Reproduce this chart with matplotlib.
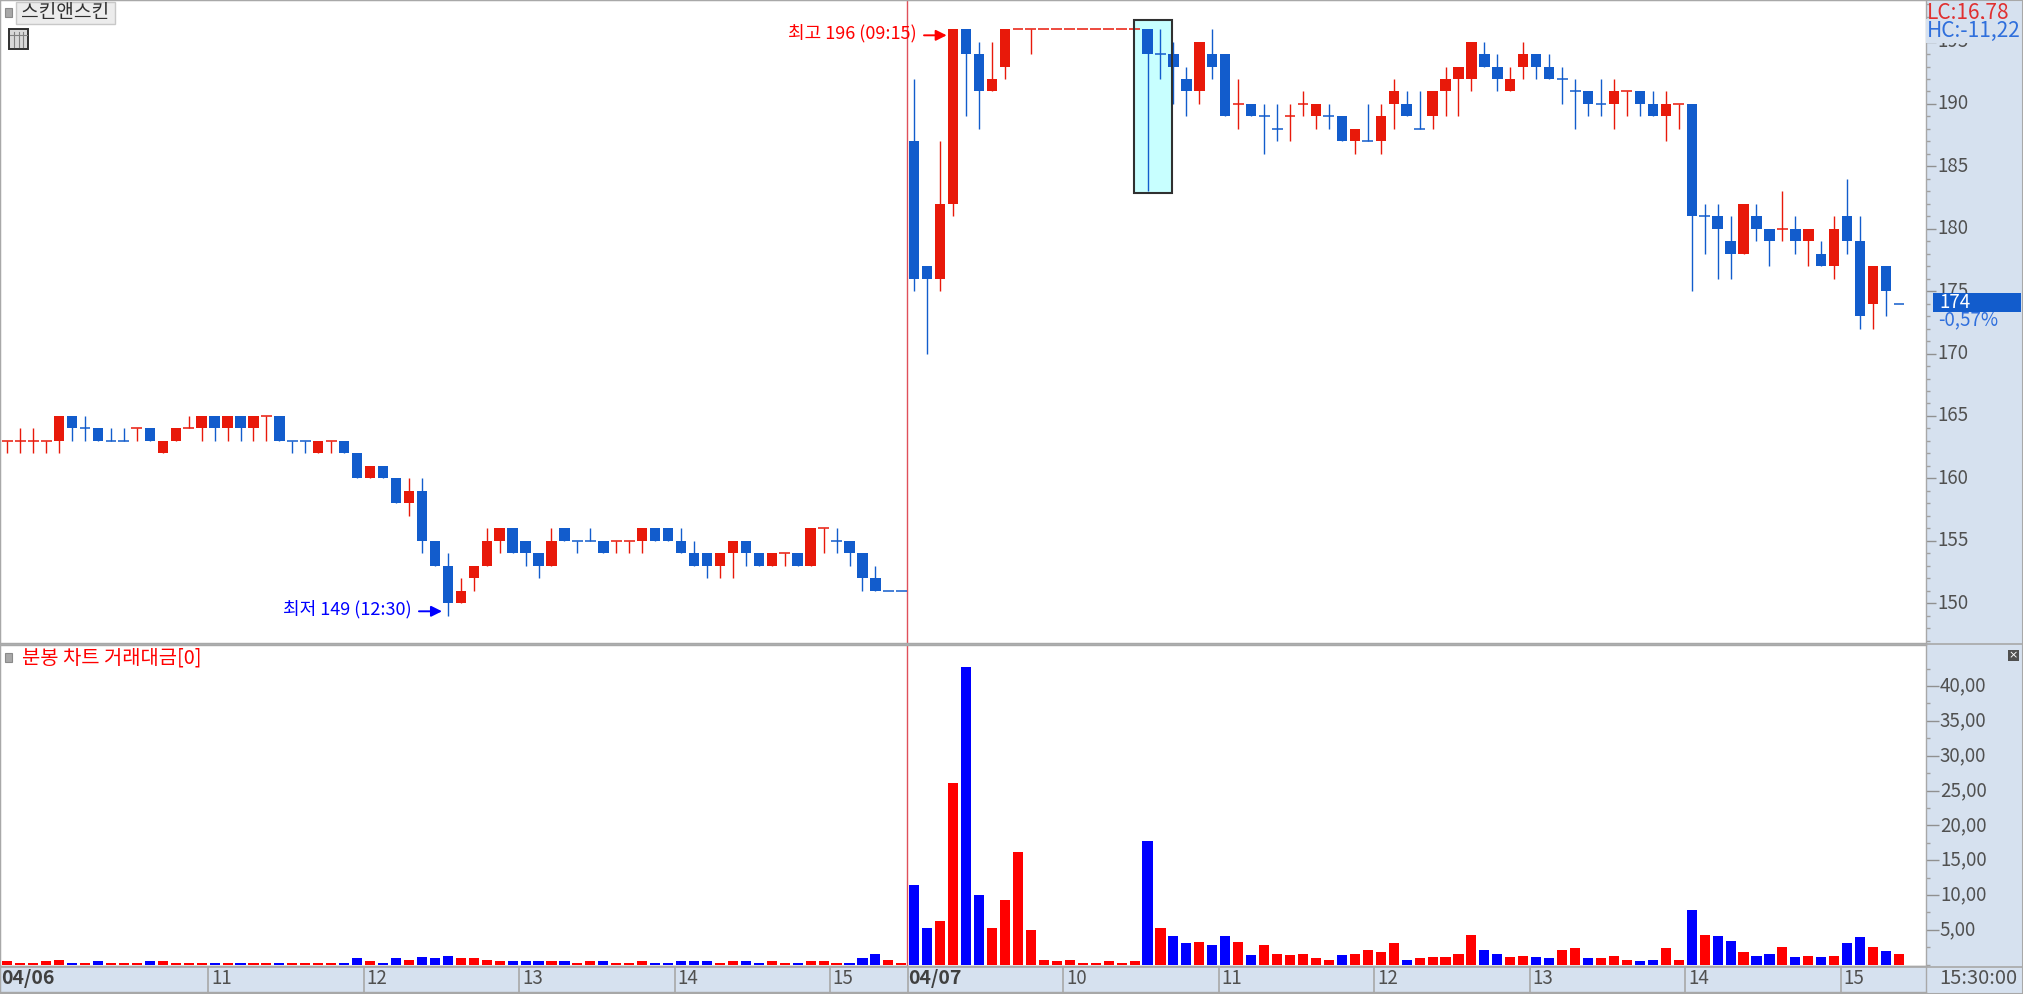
import matplotlib
matplotlib.use('Agg')
import matplotlib.pyplot as plt
from matplotlib.patches import Rectangle
from matplotlib.transforms import ScaledTranslation

plt.rcParams['font.family'] = ['Liberation Sans Narrow', 'Noto Sans CJK KR', 'DejaVu Sans']

opens = [163,163,163,163,163,165,164,164,163,163,
         164,164,162,163,164,164,165,164,165,164,
         165,165,163,163,162,163,163,162,160,161,
         160,158,159,155,153,150,152,153,155,156,
         155,154,153,156,155,155,155,155,155,155,
         156,156,155,154,154,153,154,155,154,153,
         154,154,153,156,155,155,154,152,151,151,
         187,177,176,182,196,194,191,193,196,196,
         196,196,196,196,196,196,196,196,196,194,
         194,192,191,194,194,190,190,189,188,189,
         190,189,189,189,187,187,187,190,190,188,
         189,191,192,192,194,193,191,193,194,193,
         192,191,191,190,190,191,191,190,189,190,
         190,181,181,179,178,181,180,180,180,179,
         178,177,181,179,174,177,174]
highs = [163,164,164,163,165,165,165,164,164,164,
         164,164,163,164,165,165,165,165,165,165,
         165,165,163,163,163,163,163,162,161,161,
         160,160,160,155,154,152,153,156,156,156,
         155,154,156,156,155,156,155,155,155,156,
         156,156,156,155,154,154,155,155,154,154,
         154,154,156,156,156,155,154,153,151,151,
         192,177,187,196,196,195,195,196,196,196,
         196,196,196,196,196,196,196,196,196,196,
         195,193,195,196,194,192,190,190,190,190,
         191,190,190,189,188,190,190,192,191,191,
         191,193,193,195,195,194,193,195,194,194,
         193,192,191,192,192,191,191,191,191,190,
         190,182,182,181,182,182,180,183,181,180,
         179,181,184,181,177,177,174]
lows = [162,162,162,162,162,163,163,163,163,163,
        163,163,162,163,164,163,163,163,163,163,
        163,163,162,162,162,162,162,160,160,160,
        158,157,154,153,149,150,151,153,154,154,
        153,152,153,155,154,155,154,154,154,154,
        155,155,154,153,152,152,152,153,153,153,
        153,153,153,154,154,153,151,151,151,151,
        175,170,175,181,189,188,191,192,196,194,
        196,196,196,196,196,196,196,196,183,192,
        190,189,190,192,189,188,189,186,187,187,
        189,188,188,187,186,187,186,188,189,188,
        188,189,189,191,193,191,191,192,192,192,
        190,188,189,189,188,189,189,189,187,188,
        175,178,176,176,178,179,177,179,178,177,
        177,176,178,172,172,173,174]
closes = [163,163,163,163,165,164,164,163,163,163,
          164,163,163,164,164,165,164,165,164,165,
          165,163,163,163,163,163,162,160,161,160,
          158,159,155,153,150,151,153,155,156,154,
          154,153,155,155,155,155,154,155,155,156,
          155,155,154,153,153,154,155,154,153,154,
          154,153,156,156,155,154,152,151,151,151,
          176,176,182,196,194,191,192,196,196,196,
          196,196,196,196,196,196,196,196,194,194,
          193,191,195,193,189,190,189,189,188,189,
          190,190,189,187,188,187,189,191,189,188,
          191,192,193,195,193,192,192,194,193,192,
          192,191,190,190,191,191,190,189,190,190,
          181,181,180,178,182,180,179,180,179,180,
          177,180,179,173,177,175,174]
candle_side = ("rrrrrbbbbb" "rbrrrrbrbr" "rbbbrrbbrb" "brbbbrrrrb" "bbrbbbbrrr"
               "bbbbbrrbbr" "rbrrbbbbbb" "bbrrbbrrrr" "rrrrrrrrbb" "bbrbbrbbbr"
               "rrbbrbrrbb" "rrrrbbrrbb" "bbbbrrbbrr" "bbbbrbbrbr" "brbbrbb")

amounts = [.5,.2,.2,.45,.7,.2,.2,.5,.2,.2,
           .2,.5,.5,.2,.2,.2,.2,.2,.2,.2,
           .2,.2,.2,.2,.2,.2,.2,.9,.5,.2,
           .9,.7,1.1,.9,1.3,.9,.9,.7,.45,.45,
           .45,.45,.45,.45,.2,.45,.45,.2,.2,.45,
           .2,.2,.45,.45,.45,.2,.45,.45,.2,.45,
           .2,.2,.45,.45,.2,.2,.9,1.5,.65,.25,
           11.45,5.2,6.2,26.1,42.75,10,5.2,9.3,16.2,5,
           .65,.45,.65,.25,.25,.45,.25,.45,17.75,5.2,
           4.1,3.1,3.25,2.8,4.1,3.25,1.35,2.8,1.55,1.35,
           1.55,.9,.65,1.35,1.55,2.15,1.75,3.1,.65,.9,
           1.1,1.1,1.55,4.3,2.15,1.55,1.1,1.3,1.1,.9,
           2.15,2.4,.9,.9,1.3,.65,.45,.65,2.4,.65,
           7.8,4.3,4.1,3.4,1.75,1.3,1.55,2.6,1.1,1.3,
           1.1,1.3,3.1,3.95,2.6,1.95,1.55]
amount_side = ("rrrrrbrbrr" "rbrrrrbrbr" "rbrrrrbbrb" "brbbbrrrrb" "bbrbrrbrrr"
               "bbbbbrrbbr" "rbrrrbbbrr" "bbrrbbrrrr" "rrrrrrrrbr" "bbrbbrbrrr"
               "rrrbrrrrbr" "rrrrbbrrbb" "rrbrrrbbrr" "brbbrbbrbr" "brbbrbr")

price_ticks = [150, 155, 160, 165, 170, 175, 180, 185, 190, 195]
amount_ticks = [5, 10, 15, 20, 25, 30, 35, 40]
amount_labels = ['5,00', '10,00', '15,00', '20,00', '25,00', '30,00', '35,00', '40,00']
time_bars = [16, 28, 40, 52, 64, 82, 94, 106, 118, 130, 142]
time_labels = ['11', '12', '13', '14', '15', '10', '11', '12', '13', '14', '15']
day_bars = [0, 70]
day_labels = ['04/06', '04/07']

W, H = 2023, 994
UP, DOWN = '#e8190a', '#125ccc'
VUP, VDOWN = '#ff0000', '#0000ff'
BAND = '#d6e1ef'
EDGE = '#a8a8a8'
KOREAN = ['Noto Sans CJK KR', 'DejaVu Sans']

PITCH, X0 = 12.957, 7.3
XLIM = (-X0 / PITCH, (1926 - X0) / PITCH)


def box(top, bottom, left=0, right=1926):
    return [left / W, 1 - bottom / H, (right - left) / W, (bottom - top) / H]


fig = plt.figure(figsize=(W / 100, H / 100), dpi=100, facecolor=BAND)
ax = fig.add_axes(box(0, 643), facecolor='white')
vol = fig.add_axes(box(645, 966), facecolor='white')
band = fig.add_axes(box(966, 992), facecolor=BAND)

# candles
xs = list(range(len(opens)))
cols = [UP if s == 'r' else DOWN for s in candle_side]
ax.vlines(xs, lows, highs, colors=cols, linewidth=1.0, zorder=3)
for x, o, c, col in zip(xs, opens, closes, cols):
    if o == c:
        ax.hlines(o, x - 0.42, x + 0.42, colors=col, linewidth=1.1, zorder=3)
    else:
        ax.bar(x, abs(c - o), bottom=min(o, c), width=0.8, color=col, linewidth=0, zorder=3)

# selected range
sel_x, sel_w = 86.96, 2.91
sel_low, sel_high = 182.9, 196.75
ax.add_patch(Rectangle((sel_x, sel_low), sel_w, sel_high - sel_low, facecolor='#c8ffff',
                       edgecolor='none', zorder=1))
ax.add_patch(Rectangle((sel_x, sel_low), sel_w, sel_high - sel_low, facecolor='none',
                       edgecolor='#303030', linewidth=1.5, zorder=4))

ax.set_xlim(XLIM)
ax.set_ylim(146.81, 198.33)
ax.set_xticks([])
ax.yaxis.tick_right()
ax.set_yticks(price_ticks)
ax.set_yticks(range(147, 199), minor=True)
ax.tick_params(axis='y', which='major', length=7, width=1, color='#909090', labelcolor='#505050',
               labelsize=13.5, pad=1)
ax.tick_params(axis='y', which='minor', length=3, width=1, color='#a0a0a0')

ax.annotate('최고 196 (09:15)', xy=(72.5, 195.7), xytext=(-22, 0), textcoords='offset points',
            ha='right', va='center', color='#ff0000', fontsize=13, family=KOREAN)
ax.annotate('', xy=(72.5, 195.5), xytext=(70.75, 195.5),
            arrowprops=dict(arrowstyle='-|>', color='#ff0000', lw=1.4, shrinkA=0, shrinkB=0, mutation_scale=16))
ax.annotate('최저 149 (12:30)', xy=(33.55, 149.5), xytext=(-22, 0), textcoords='offset points',
            ha='right', va='center', color='#0000ff', fontsize=13, family=KOREAN)
ax.annotate('', xy=(33.55, 149.35), xytext=(31.77, 149.35),
            arrowprops=dict(arrowstyle='-|>', color='#0000ff', lw=1.4, shrinkA=0, shrinkB=0, mutation_scale=16))

# amount bars
vcols = [VUP if s == 'r' else VDOWN for s in amount_side]
vol.bar(xs, amounts, width=0.78, color=vcols, linewidth=0)
vol.set_xlim(XLIM)
vol.set_ylim(-0.2, 45.9)
vol.set_xticks([])
vol.yaxis.tick_right()
vol.set_yticks(amount_ticks, amount_labels)
vol.set_yticks([t * 2.5 for t in range(1, 18, 2)] + [0], minor=True)
vol.tick_params(axis='y', which='major', length=9, width=1, color='#909090', labelcolor='#505050',
                labelsize=13.5, pad=1)
vol.tick_params(axis='y', which='minor', length=3, width=1, color='#a0a0a0')

# labels sit a little above their ticks
lift = ScaledTranslation(0, 2.5 / 100, fig.dpi_scale_trans)
for a in (ax, vol):
    for t in a.get_yticklabels():
        t.set_transform(t.get_transform() + lift)

# time band
band.set_xlim(XLIM)
band.set_ylim(0, 1)
band.set_yticks([])
band.set_xticks([])
for b, lab in zip(time_bars, time_labels):
    band.axvline(b - 0.5, color=EDGE, lw=1.2)
    band.annotate(lab, xy=(b - 0.5, 0.5), xytext=(2, 0), textcoords='offset points', ha='left',
                  va='center', color='#505050', fontsize=13.5)
band.axvline(69.5, color=EDGE, lw=1.2)
for b, lab in zip(day_bars, day_labels):
    band.annotate(lab, xy=(b - 0.5, 0.5), xytext=(0.5, 0), textcoords='offset points', ha='left',
                  va='center', color='#404040', fontsize=14, fontweight='bold')

for a in (ax, vol, band):
    for s in a.spines.values():
        s.set_color(EDGE)
        s.set_linewidth(1.0)
ax.axvline(69.45, color='#e0505a', lw=1.0, zorder=2)
vol.axvline(69.45, color='#e0505a', lw=1.0, zorder=2)

# chart frame, in pixels
over = fig.add_axes([0, 0, 1, 1], facecolor='none')
over.set_xlim(0, W)
over.set_ylim(H, 0)
over.axis('off')
over.add_patch(Rectangle((0, 0), 2023, 994, fill=False, edgecolor=EDGE, lw=1.5))
over.plot([0, W], [644, 644], color=EDGE, lw=1.2)
over.plot([0, W], [966.5, 966.5], color=EDGE, lw=1.2)

# current price tag
over.add_patch(Rectangle((1933, 293), 88, 19, facecolor=DOWN, edgecolor='none'))
over.text(1939, 302.5, '174', color='white', fontsize=13.5, va='center', ha='left')
over.text(1938, 320, '-0,57%', color='#2f6fdc', fontsize=13.5, va='center', ha='left')
over.text(1927, 13, 'LC:16,78', color='#e03030', fontsize=15, va='center', ha='left')
over.text(1927, 31, 'HC:-11,22', color='#2f6fdc', fontsize=15, va='center', ha='left',
          bbox=dict(facecolor=BAND, edgecolor='none', pad=0.5))
over.text(1939, 979, '15:30:00', color='#505050', fontsize=14.5, va='center', ha='left')

# widgets
over.add_patch(Rectangle((5, 8), 7, 9, facecolor='#a8a8a8', edgecolor='#8a8a8a', lw=0.8))
over.add_patch(Rectangle((16, 2), 99, 22, facecolor='#ececec', edgecolor='#c8c8c8', lw=1))
over.text(65, 12.5, '스킨앤스킨', color='#303030', fontsize=13.8, ha='center', va='center', family=KOREAN)
over.add_patch(Rectangle((9, 29), 19, 20, facecolor='#d8d8d8', edgecolor='#303030', lw=1.4))
for gx in (14, 19, 23):
    over.plot([gx, gx], [32, 47], color='#808080', lw=0.8)
over.plot([10, 27], [35, 35], color='#808080', lw=0.8)
over.add_patch(Rectangle((5, 653), 7, 9, facecolor='#a8a8a8', edgecolor='#8a8a8a', lw=0.8))
over.text(22, 658, '분봉 차트 거래대금[0]', color='#ff0000', fontsize=14.3, ha='left', va='center', family=KOREAN)
over.add_patch(Rectangle((2008, 650), 11, 11, facecolor='#505050', edgecolor='none'))
over.text(2013.5, 655.5, '×', color='white', fontsize=8, ha='center', va='center', family='DejaVu Sans')

fig.savefig('out.png', dpi=100, facecolor=fig.get_facecolor())
